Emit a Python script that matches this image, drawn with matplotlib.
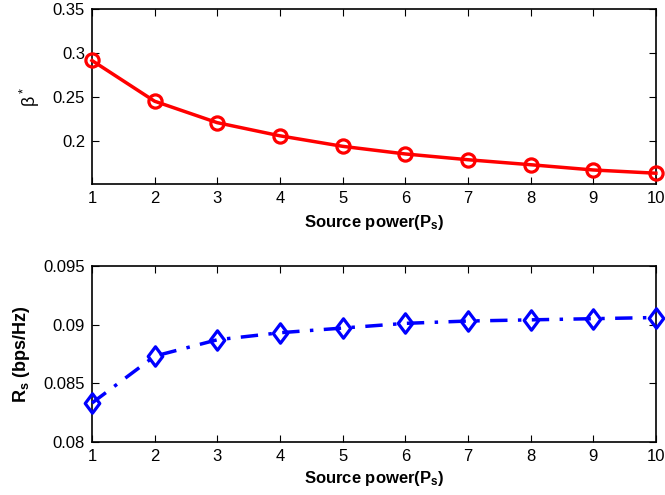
import numpy as np
import matplotlib
matplotlib.use('Agg')
import matplotlib.pyplot as plt
from matplotlib.path import Path

plt.rcParams['font.family'] = ['Liberation Sans', 'DejaVu Sans']
plt.rcParams['mathtext.fontset'] = 'custom'
plt.rcParams['mathtext.rm'] = 'Liberation Sans'
plt.rcParams['mathtext.it'] = 'Liberation Sans'
plt.rcParams['mathtext.bf'] = 'Liberation Sans:bold'

# data
power = [1, 2, 3, 4, 5, 6, 7, 8, 9, 10]
beta = [0.2915, 0.245, 0.2205, 0.2055, 0.1935, 0.1848, 0.1782, 0.1725, 0.1665, 0.1628]
rate = [0.0833, 0.0873, 0.0887, 0.0893, 0.0897, 0.0901, 0.0903, 0.0904, 0.0905, 0.0906]

# matlab-like diamond, a bit taller than wide
diamond = Path([(0, 1), (0.75, 0), (0, -1), (-0.75, 0), (0, 1)],
               [Path.MOVETO, Path.LINETO, Path.LINETO, Path.LINETO, Path.CLOSEPOLY])

fig = plt.figure(figsize=(6.65, 4.95), dpi=100)
ax1 = fig.add_axes([0.1383, 0.6283, 0.848, 0.353])
ax2 = fig.add_axes([0.1383, 0.1077, 0.848, 0.355])

ax1.plot(power, beta, color='red', lw=2.5, marker='o', markersize=9.5,
         markerfacecolor='none', markeredgewidth=2.3, clip_on=False, zorder=5)
ax1.set_xlim(1, 10)
ax1.set_ylim(0.1505, 0.35)
ax1.set_yticks([0.2, 0.25, 0.3, 0.35])
ax1.set_yticklabels(['0.2', '0.25', '0.3', '0.35'])
ax1.set_ylabel(r'$\beta^*$', fontsize=13, labelpad=8)
ax1.set_xlabel(r'Source power(P$_\mathbf{s}$)', fontsize=12, fontweight='bold', labelpad=5)

ax2.plot(power, rate, color='blue', lw=2.5, linestyle=(0, (5, 3, 1, 3)), marker=diamond,
         markersize=14, markerfacecolor='none', markeredgewidth=2.3, clip_on=False, zorder=5)
ax2.set_xlim(1, 10)
ax2.set_ylim(0.08, 0.095)
ax2.set_yticks([0.08, 0.085, 0.09, 0.095])
ax2.set_yticklabels(['0.08', '0.085', '0.09', '0.095'])
ax2.set_ylabel(r'R$_\mathbf{s}$ (bps/Hz)', fontsize=13, fontweight='bold', labelpad=8)
ax2.set_xlabel(r'Source power(P$_\mathbf{s}$)', fontsize=12, fontweight='bold', labelpad=4)

for ax in (ax1, ax2):
    ax.set_xticks(power)
    ax.tick_params(direction='in', top=True, right=True, length=5, width=0.8,
                   labelsize=12, pad=5)
    for sp in ax.spines.values():
        sp.set_linewidth(1.2)

fig.savefig('out.png', dpi=100)
